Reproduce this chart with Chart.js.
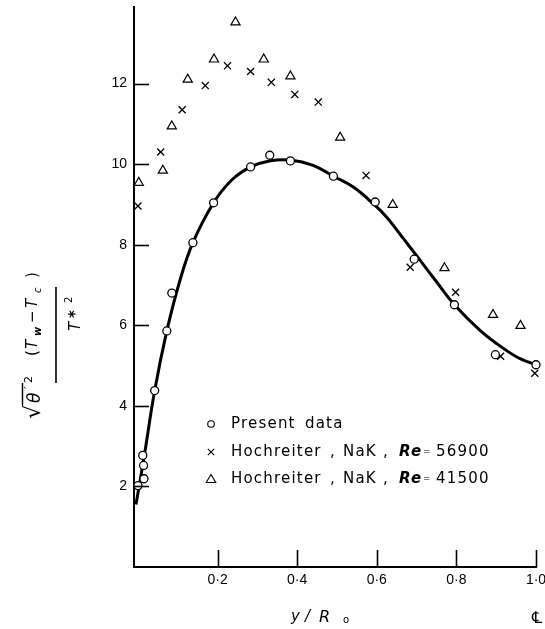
<!DOCTYPE html>
<html><head><meta charset="utf-8">
<script src="https://cdn.jsdelivr.net/npm/chart.js@4/dist/chart.umd.min.js"></script>
<style>html,body{margin:0;padding:0;background:#fff;}#wrap{width:545px;height:629px;}</style>
</head><body><div id="wrap"><canvas id="c" width="545" height="629"></canvas></div>
<script>
// ---- data ----
const presentX = [0.000, 0.015, 0.014, 0.012, 0.042, 0.0725, 0.085, 0.138, 0.190, 0.283, 0.331, 0.383, 0.491, 0.596, 0.694, 0.795, 0.898, 1.000];
const presentY = [2.02, 2.19, 2.52, 2.77, 4.38, 5.86, 6.80, 8.05, 9.04, 9.93, 10.22, 10.08, 9.70, 9.06, 7.64, 6.51, 5.27, 5.02];

const hoch56900X = [0.000, 0.057, 0.111, 0.169, 0.225, 0.283, 0.335, 0.394, 0.453, 0.573, 0.684, 0.798, 0.911, 0.997];
const hoch56900Y = [8.96, 10.30, 11.35, 11.95, 12.44, 12.30, 12.03, 11.73, 11.54, 9.72, 7.44, 6.82, 5.23, 4.81];

const hoch41500X = [0.002, 0.0625, 0.085, 0.125, 0.191, 0.245, 0.316, 0.383, 0.508, 0.640, 0.770, 0.892, 0.961, 1.020];
const hoch41500Y = [9.54, 9.84, 10.94, 12.10, 12.60, 13.52, 12.60, 12.18, 10.66, 8.99, 7.42, 6.26, 5.99, 5.75];

const curveX = [-0.005, 0.016, 0.042, 0.0725, 0.105, 0.138, 0.190, 0.235, 0.283, 0.330, 0.383, 0.440, 0.491, 0.541, 0.595, 0.625, 0.667, 0.709, 0.750, 0.795, 0.860, 0.919, 0.960, 1.000];
const curveY = [1.55, 2.77, 4.38, 5.86, 7.10, 8.05, 9.04, 9.60, 9.93, 10.08, 10.10, 9.97, 9.70, 9.43, 8.98, 8.68, 8.15, 7.61, 7.08, 6.51, 5.87, 5.42, 5.17, 5.02];

const xTickValues = [0.2, 0.4, 0.6, 0.8, 1.0];
const xTickLabels = ['0·2', '0·4', '0·6', '0·8', '1·0'];
const yTickValues = [2, 4, 6, 8, 10, 12];
const yTickLabels = ['2', '4', '6', '8', '10', '12'];

const pts = (xs, ys) => xs.map((x, i) => ({x: x, y: ys[i]}));

// inward tick marks drawn through the library scales
const inwardTicks = {
  id: 'inwardTicks',
  afterDraw(chart) {
    const ctx = chart.ctx, xs = chart.scales.x, ys = chart.scales.y, a = chart.chartArea;
    ctx.save();
    ctx.strokeStyle = '#000'; ctx.lineWidth = 1.6;
    yTickValues.forEach(v => {
      const py = Math.round(ys.getPixelForValue(v)) + 0.5;
      ctx.beginPath(); ctx.moveTo(a.left, py); ctx.lineTo(a.left + 15, py); ctx.stroke();
    });
    xTickValues.forEach(v => {
      const px = Math.round(xs.getPixelForValue(v)) + 0.5;
      ctx.beginPath(); ctx.moveTo(px, a.bottom); ctx.lineTo(px, a.bottom - 17); ctx.stroke();
    });
    ctx.restore();
  }
};

const annotations = {
  id: 'annotations',
  afterDraw(chart) {
    const ctx = chart.ctx;
    ctx.save();
    ctx.fillStyle = '#000'; ctx.strokeStyle = '#000';
    // ---- legend ----
    const lx = 211, ly = [424, 452, 479];
    ctx.lineWidth = 1.1;
    ctx.fillStyle = '#fff';
    ctx.beginPath(); ctx.arc(lx, ly[0], 3.3, 0, Math.PI * 2); ctx.fill(); ctx.stroke();
    ctx.beginPath(); ctx.moveTo(lx - 3.2, ly[1] - 3.2); ctx.lineTo(lx + 3.2, ly[1] + 3.2);
    ctx.moveTo(lx + 3.2, ly[1] - 3.2); ctx.lineTo(lx - 3.2, ly[1] + 3.2); ctx.stroke();
    ctx.beginPath(); ctx.moveTo(lx, ly[2] - 4.5); ctx.lineTo(lx + 4.8, ly[2] + 3.5); ctx.lineTo(lx - 4.8, ly[2] + 3.5); ctx.closePath(); ctx.stroke();
    ctx.fillStyle = '#000';
    ctx.textBaseline = 'middle';
    ctx.letterSpacing = '1.2px';
    ctx.font = '15px "DejaVu Sans"';
    ctx.fillText('Present', 231, ly[0]);
    ctx.fillText('data', 305, ly[0]);
    [[1, '56900'], [2, '41500']].forEach(([k, num]) => {
      const y = ly[k];
      ctx.font = '15px "DejaVu Sans"';
      ctx.fillText('Hochreiter', 231, y);
      ctx.fillText(',', 330, y);
      ctx.fillText('NaK', 343, y);
      ctx.fillText(',', 383, y);
      ctx.font = 'italic bold 15px "DejaVu Sans"';
      ctx.fillText('Re', 399, y);
      ctx.font = '9px "DejaVu Sans"';
      ctx.fillText('=', 423, y);
      ctx.font = '15px "DejaVu Sans"';
      ctx.fillText(num, 436, y);
    });
    // ---- x axis title ----
    ctx.letterSpacing = '0px';
    ctx.textBaseline = 'alphabetic';
    ctx.font = 'italic 15px "DejaVu Sans"';
    ctx.fillText('y', 291, 621);
    ctx.fillText('/', 305, 621);
    ctx.font = 'italic 16px "DejaVu Sans"';
    ctx.fillText('R', 319, 622);
    ctx.font = '10px "DejaVu Sans"';
    ctx.fillText('o', 343, 623);
    ctx.font = '16px "DejaVu Sans"';
    ctx.fillText('\u2104', 532, 623);
    // ---- y axis title (rotated) ----
    ctx.rotate(-Math.PI / 2);
    // sqrt(theta'^2)
    ctx.font = '22px "DejaVu Sans"';
    ctx.fillText('\u221A', -419, 40);
    ctx.lineWidth = 1.4;
    ctx.beginPath(); ctx.moveTo(-405, 22.5); ctx.lineTo(-383, 22.5); ctx.stroke();
    ctx.font = 'italic 17px "DejaVu Sans"';
    ctx.fillText('\u03B8', -403, 40);
    ctx.font = '11px "DejaVu Sans"';
    ctx.fillText('\u2032', -389, 32);
    ctx.fillText('2', -383, 32);
    // numerator ( T_w - T_c )
    ctx.font = '15px "DejaVu Sans"';
    ctx.fillText('(', -356, 37);
    ctx.font = 'italic 15px "DejaVu Sans"';
    ctx.fillText('T', -349, 37);
    ctx.font = 'italic bold 10px "DejaVu Sans"';
    ctx.fillText('w', -336, 41);
    ctx.font = '15px "DejaVu Sans"';
    ctx.fillText('\u2212', -323, 37);
    ctx.font = 'italic 15px "DejaVu Sans"';
    ctx.fillText('T', -308, 37);
    ctx.font = 'italic 10px "DejaVu Sans"';
    ctx.fillText('c', -293, 41);
    ctx.font = '15px "DejaVu Sans"';
    ctx.fillText(')', -278, 37);
    // fraction bar
    ctx.lineWidth = 1.6;
    ctx.beginPath(); ctx.moveTo(-383, 56); ctx.lineTo(-287, 56); ctx.stroke();
    // denominator T*^2
    ctx.font = 'italic 15px "DejaVu Sans"';
    ctx.fillText('T', -331, 80);
    ctx.font = 'bold 15px "DejaVu Sans"';
    ctx.fillText('*', -318, 80);
    ctx.font = '10px "DejaVu Sans"';
    ctx.fillText('2', -303, 72);
    ctx.restore();
  }
};

new Chart(document.getElementById('c'), {
  type: 'scatter',
  data: {
    datasets: [
      { label: 'Present data', data: pts(presentX, presentY), pointStyle: 'circle', pointRadius: 4,
        pointBackgroundColor: '#fff', pointBorderColor: '#000', pointBorderWidth: 1.3, order: 0, clip: false },
      { label: 'Hochreiter, NaK, Re = 56900', data: pts(hoch56900X, hoch56900Y), pointStyle: 'crossRot', pointRadius: 5,
        pointBorderColor: '#000', pointBorderWidth: 1.3, order: 1, clip: false },
      { label: 'Hochreiter, NaK, Re = 41500', data: pts(hoch41500X, hoch41500Y), pointStyle: 'triangle', pointRadius: 5.3,
        pointBackgroundColor: 'rgba(0,0,0,0)', pointBorderColor: '#000', pointBorderWidth: 1.2, order: 1, clip: false },
      { label: 'fit', data: pts(curveX, curveY), showLine: true, pointRadius: 0, borderColor: '#000', borderWidth: 3,
        tension: 0.4, order: 5, clip: false }
    ]
  },
  options: {
    responsive: false, animation: false, devicePixelRatio: 1,
    layout: { padding: { top: 7, right: 9, left: 0, bottom: 0 } },
    plugins: { legend: { display: false }, tooltip: { enabled: false } },
    scales: {
      x: {
        type: 'linear', min: -0.01, max: 1.0,
        afterBuildTicks: s => { s.ticks = xTickValues.map(v => ({ value: v })); },
        afterFit: s => { s.height = 62; s.paddingLeft = 0; s.paddingRight = 0; },
        ticks: { callback: v => xTickLabels[xTickValues.indexOf(v)], padding: 5, color: '#000',
          font: { family: '"Liberation Sans"', size: 14 }, maxRotation: 0, autoSkip: false },
        grid: { drawOnChartArea: false, drawTicks: false },
        border: { color: '#000', width: 2 }
      },
      y: {
        type: 'linear', min: 0, max: 13.9,
        afterBuildTicks: s => { s.ticks = yTickValues.map(v => ({ value: v })); },
        afterFit: s => { s.width = 134; s.paddingTop = 0; s.paddingBottom = 0; },
        ticks: { callback: v => yTickLabels[yTickValues.indexOf(v)], padding: 7, color: '#000',
          font: { family: '"Liberation Sans"', size: 14 }, autoSkip: false },
        grid: { drawOnChartArea: false, drawTicks: false },
        border: { color: '#000', width: 2 }
      }
    }
  },
  plugins: [inwardTicks, annotations]
});
</script></body></html>
